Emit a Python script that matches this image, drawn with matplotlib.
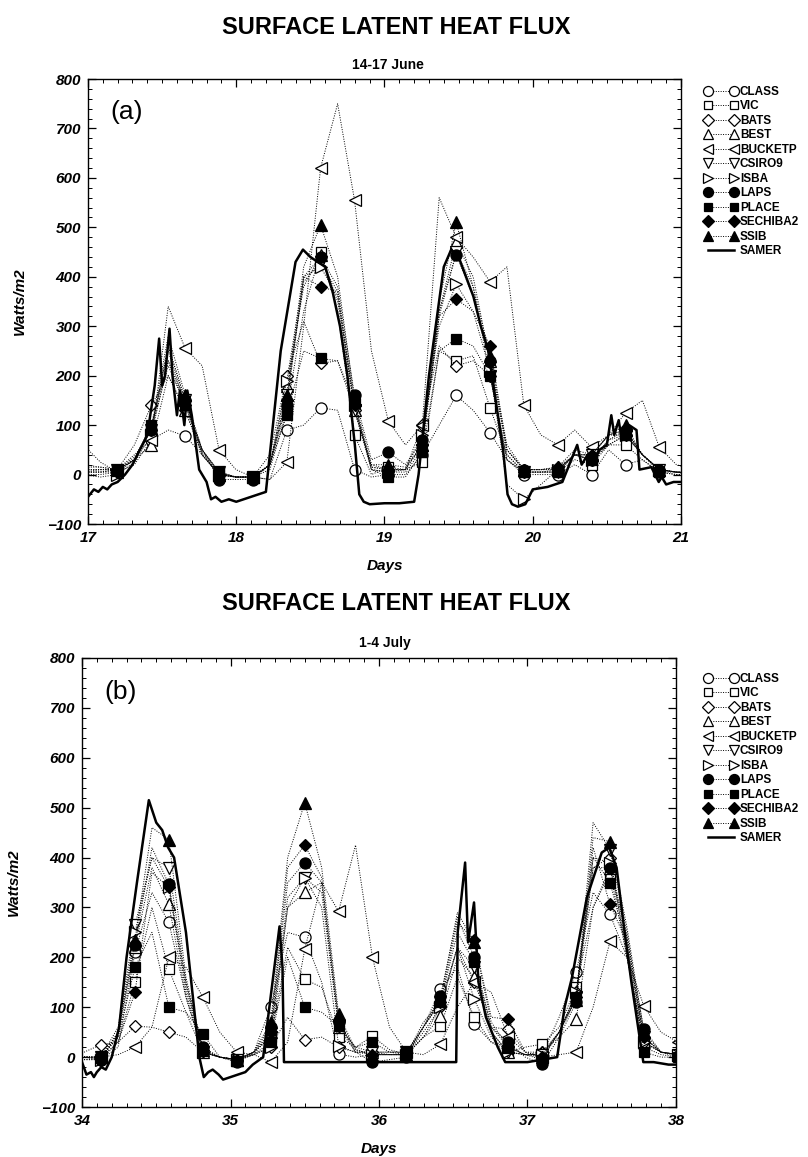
import numpy as np
import matplotlib
matplotlib.use('Agg')
import matplotlib.pyplot as plt
from matplotlib.lines import Line2D
from matplotlib.ticker import MultipleLocator

plt.rcParams['font.family'] = ['Liberation Sans', 'DejaVu Sans']

models = ['CLASS', 'VIC', 'BATS', 'BEST', 'BUCKETP', 'CSIRO9', 'ISBA',
          'LAPS', 'PLACE', 'SECHIBA2', 'SSIB']
marks = ['o', 's', 'D', '^', '<', 'v', '>', 'o', 's', 'D', '^']
filled = [False] * 7 + [True] * 4

# model output times, markers drawn on every second sample
t_a = np.round(16.97 + 0.11425 * np.arange(37), 3)
t_b = np.round(33.90 + 0.11425 * np.arange(37), 3)

# ---- 14-17 June ----
class_a = [60, 25, 5, 20, 70, 90, 78, 40, 0, -5, -5, -10, 90, 100, 135, 130, 10, -5, 0, 0, 40, 100, 160, 130, 85, 30, 0, 0, 0, 20, 0, 50, 20, 30, 5, 0, 0]
vic_a = [5, 5, 10, 30, 90, 220, 140, 50, 5, -5, -5, 10, 130, 330, 450, 330, 80, 0, 15, 10, 25, 250, 230, 240, 135, 40, 5, 5, 5, 30, 20, 60, 60, 30, 5, 0, 0]
bats_a = [5, 10, 10, 60, 140, 200, 130, 40, 0, -5, -5, 40, 200, 310, 225, 230, 130, 20, 10, 10, 100, 260, 220, 230, 200, 30, 5, 5, 10, 40, 30, 60, 80, 40, 10, 5, 5]
best_a = [0, 0, 5, 30, 60, 200, 130, 40, 0, -5, -5, 20, 180, 380, 445, 350, 130, 15, 10, 10, 60, 330, 470, 400, 230, 50, 10, 10, 10, 40, 40, 80, 90, 40, 10, 5, 5]
bucketp_a = [20, 15, 10, 40, 70, 340, 255, 220, 50, 10, -5, -10, 25, 300, 620, 750, 555, 250, 108, 60, 100, 560, 480, 440, 390, 420, 140, 80, 60, 90, 55, 80, 125, 150, 55, 20, 10]
csiro9_a = [10, 10, 10, 30, 90, 260, 150, 50, 5, -5, -5, 20, 160, 390, 430, 370, 130, 10, 5, 5, 50, 320, 450, 380, 200, 40, 5, 5, 5, 40, 40, 80, 80, 40, 10, 5, 0]
isba_a = [0, -5, 0, 25, 80, 230, 150, 40, 0, -5, -5, 20, 190, 400, 420, 360, 140, 10, 5, 10, 80, 300, 385, 330, 210, -20, -50, -20, 10, 40, 30, 60, 80, 40, 10, 5, 0]
laps_a = [15, 15, 10, 30, 90, 260, 150, 50, -10, -10, -10, 20, 140, 400, 440, 380, 160, 30, 45, 20, 70, 330, 445, 360, 230, 50, 10, 10, 10, 40, 30, 70, 90, 40, 10, 5, 5]
place_a = [5, 5, 10, 30, 100, 230, 140, 50, 5, -5, -5, 20, 120, 250, 235, 230, 145, 10, -5, -5, 45, 250, 275, 260, 200, 30, 5, 5, 5, 40, 30, 70, 80, 40, 5, 5, 0]
sechiba2_a = [5, 5, 5, 30, 90, 250, 140, 45, 0, -5, -5, 20, 150, 400, 380, 370, 140, 15, 10, 10, 60, 320, 355, 330, 260, 50, 10, 10, 15, 40, 40, 80, 90, 40, 10, 5, 5]
ssib_a = [10, 10, 10, 35, 95, 280, 160, 50, 0, -5, -5, 20, 160, 420, 505, 400, 150, 20, 20, 15, 60, 350, 510, 380, 240, 60, 10, 10, 15, 50, 40, 80, 100, 40, 10, 5, 5]

samer_a_t = [17.0, 17.04, 17.07, 17.1, 17.13, 17.16, 17.2, 17.25, 17.3, 17.35, 17.4, 17.45, 17.48, 17.5, 17.52,
             17.55, 17.57, 17.6, 17.62, 17.65, 17.67, 17.7, 17.75, 17.8, 17.83, 17.86, 17.9, 17.95, 18.0, 18.1,
             18.2, 18.23, 18.3, 18.4, 18.45, 18.5, 18.55, 18.6, 18.65, 18.7, 18.75, 18.8, 18.83, 18.86, 18.9,
             19.0, 19.1, 19.2, 19.23, 19.3, 19.4, 19.45, 19.5, 19.55, 19.6, 19.65, 19.7, 19.75, 19.8, 19.83,
             19.86, 19.9, 19.95, 20.0, 20.1, 20.2, 20.3, 20.33, 20.37, 20.4, 20.45, 20.5, 20.53, 20.55, 20.58,
             20.6, 20.65, 20.7, 20.72, 20.8, 20.85, 20.87, 20.9, 20.95, 21.0]
samer_a_v = [-45, -30, -35, -25, -30, -20, -15, 0, 20, 50, 80, 180, 275, 180, 200,
             295, 200, 120, 170, 100, 170, 120, 10, -15, -50, -45, -55, -50, -55, -45,
             -35, 50, 250, 430, 455, 440, 430, 420, 370, 300, 200, 60, -40, -55, -60,
             -58, -58, -55, 0, 200, 420, 455, 440, 400, 360, 300, 250, 150, 50, -40,
             -60, -65, -60, -30, -25, -15, 60, 20, 40, 20, 50, 60, 120, 80, 110,
             70, 100, 90, 10, 15, -15, -5, -20, -15, -15]

# ---- 1-4 July ----
class_b = [0, -5, -5, 20, 210, 330, 270, 120, 10, 0, -5, 10, 100, 250, 240, 150, 6, 0, 5, 5, 5, 60, 136, 180, 66, 30, 20, 5, 5, 80, 170, 330, 286, 200, 20, 5, 0]
vic_b = [5, 0, 0, 30, 150, 300, 176, 90, 10, 0, -5, 10, 40, 220, 156, 140, 40, 20, 42, 15, 5, 40, 62, 160, 80, 30, 10, 20, 26, 60, 140, 300, 370, 200, 30, 10, 5]
bats_b = [5, 10, 25, 30, 62, 60, 50, 40, 10, 0, -5, 5, 20, 80, 35, 40, 20, 10, 10, 10, 5, 40, 100, 220, 150, 60, 56, 10, 10, 50, 130, 380, 400, 200, 30, 10, 5]
best_b = [0, 0, 0, 40, 220, 380, 306, 120, 10, 0, -5, 10, 50, 300, 330, 350, 60, 10, 10, 5, 5, 40, 82, 200, 160, 50, 10, 5, 10, 40, 76, 300, 380, 220, 40, 10, 5]
bucketp_b = [0, 0, 0, 5, 20, 60, 200, 180, 120, 50, 10, 5, -10, 30, 216, 350, 292, 425, 200, 60, 10, 5, 26, 100, 150, 130, 40, 10, 0, 5, 10, 100, 232, 200, 102, 50, 30]
csiro9_b = [5, 0, 0, 60, 265, 400, 380, 150, 10, 0, -5, 10, 40, 320, 360, 330, 60, 20, 10, 10, 10, 60, 110, 220, 180, 50, 10, 5, 5, 50, 120, 470, 416, 250, 40, 10, 5]
isba_b = [0, 0, -5, 50, 250, 400, 340, 130, 10, 0, -5, 5, 20, 300, 360, 300, 22, 10, 5, 5, 5, 50, 100, 220, 116, 40, 10, 5, 5, 50, 130, 400, 390, 240, 30, 10, 5]
laps_b = [-5, -5, -5, 50, 225, 420, 346, 150, 20, 0, -10, 10, 60, 350, 390, 350, 70, 10, -10, -5, 0, 60, 122, 280, 200, 60, 30, 0, -14, 40, 110, 380, 380, 240, 56, 10, 0]
place_b = [0, 0, 0, 40, 180, 250, 100, 90, 46, 0, -8, 5, 30, 200, 100, 90, 62, 20, 30, 10, 10, 60, 110, 250, 190, 60, 20, 5, -5, 50, 120, 400, 350, 220, 10, 0, 0]
sechiba2_b = [0, 0, -5, 30, 130, 370, 340, 140, 15, 0, -5, 5, 50, 380, 425, 360, 75, 15, 5, 5, 5, 70, 110, 270, 235, 80, 76, 10, 0, 50, 120, 420, 306, 230, 40, 10, 5]
ssib_b = [0, 0, 0, 50, 235, 460, 436, 160, 15, 0, -5, 10, 70, 400, 510, 380, 86, 15, 5, 5, 5, 60, 115, 290, 230, 70, 20, 5, 0, 50, 115, 440, 432, 260, 50, 10, 5]

samer_b_t = [34.0, 34.03, 34.06, 34.08, 34.1, 34.13, 34.16, 34.2, 34.25, 34.3, 34.37, 34.45, 34.5, 34.54,
             34.58, 34.62, 34.7, 34.79, 34.82, 34.85, 34.88, 34.92, 34.95, 35.0, 35.1, 35.15, 35.22, 35.27,
             35.33, 35.35, 35.36, 36.52, 36.53, 36.58, 36.6, 36.64, 36.67, 36.72, 36.8, 36.85, 37.0, 37.1,
             37.2, 37.25, 37.3, 37.4, 37.5, 37.55, 37.6, 37.65, 37.7, 37.75, 37.78, 37.85, 37.95, 38.0]
samer_b_v = [-10, -35, -30, -40, -30, -20, -25, 0, 60, 200, 350, 515, 470, 455,
             420, 400, 250, 0, -40, -30, -25, -35, -45, -40, -30, -15, 0, 120,
             262, 180, -10, -10, 250, 390, 230, 310, 150, 80, 20, -10, -10, -5,
             0, 100, 160, 320, 410, 420, 380, 260, 150, 50, -10, -10, -15, -15]

series_a = [class_a, vic_a, bats_a, best_a, bucketp_a, csiro9_a, isba_a, laps_a, place_a, sechiba2_a, ssib_a]
series_b = [class_b, vic_b, bats_b, best_b, bucketp_b, csiro9_b, isba_b, laps_b, place_b, sechiba2_b, ssib_b]


def msize(m):
    return 6.6 if m in ('s', 'D') else 8.0


def draw_panel(ax, t, series, st, sv, x0, x1, tag):
    for vals, m, f in zip(series, marks, filled):
        ax.plot(t, vals, color='black', lw=0.7, ls=(0, (1, 1.5)),
                marker=m, markersize=msize(m), markevery=(2, 2),
                markerfacecolor='black' if f else 'white',
                markeredgecolor='black', markeredgewidth=0.9, zorder=3 if f else 2)
    ax.plot(st, sv, color='black', lw=1.8, zorder=4)
    ax.set_xlim(x0, x1)
    ax.set_ylim(-100, 800)
    ax.xaxis.set_major_locator(MultipleLocator(1))
    ax.xaxis.set_minor_locator(MultipleLocator(0.1))
    ax.yaxis.set_major_locator(MultipleLocator(100))
    ax.yaxis.set_minor_locator(MultipleLocator(20))
    ax.tick_params(which='both', direction='in', top=True, right=True)
    ax.tick_params(which='major', length=6, width=0.9, labelsize=11, pad=5)
    ax.tick_params(which='minor', length=3, width=0.7)
    for lab in ax.get_xticklabels() + ax.get_yticklabels():
        lab.set_fontweight('bold')
        lab.set_fontstyle('italic')
    for sp in ax.spines.values():
        sp.set_linewidth(1.0)
    ax.set_xlabel('Days', fontsize=11, fontweight='bold', fontstyle='italic', labelpad=10)
    ax.set_ylabel('Watts/m2', fontsize=11, fontweight='bold', fontstyle='italic', labelpad=14)
    ax.text(0.037, 0.925, tag, transform=ax.transAxes, fontsize=19, va='center', ha='left')


def add_legend(fig, y_top, spacing):
    handles = []
    for name, m, f in zip(models, marks, filled):
        handles.append(Line2D([], [], color='black', lw=0.7, ls=(0, (1, 1.5)),
                              marker=m, markersize=msize(m) * 0.9,
                              markerfacecolor='black' if f else 'white',
                              markeredgecolor='black', markeredgewidth=0.9, label=name))
    handles.append(Line2D([], [], color='black', lw=1.8, label='SAMER'))
    fig.legend(handles=handles, loc='upper left', bbox_to_anchor=(0.872, y_top),
               bbox_transform=fig.transFigure, frameon=False, numpoints=2,
               prop={'weight': 'bold', 'size': 8.5}, handlelength=2.8,
               handletextpad=0.2, labelspacing=spacing, borderpad=0, borderaxespad=0)


fig = plt.figure(figsize=(8.08, 11.57), dpi=100)
ax_a = fig.add_axes([0.1089, 0.5471, 0.7339, 0.3846])
ax_b = fig.add_axes([0.1015, 0.0432, 0.7351, 0.3881])

draw_panel(ax_a, t_a, series_a, samer_a_t, samer_a_v, 17, 21, '(a)')
draw_panel(ax_b, t_b, series_b, samer_b_t, samer_b_v, 34, 38, '(b)')

fig.text(0.49, 1 - 27 / 1157, 'SURFACE LATENT HEAT FLUX', ha='center', va='center',
         fontsize=17, fontweight='bold')
fig.text(0.48, 1 - 65 / 1157, '14-17 June', ha='center', va='center',
         fontsize=10, fontweight='bold')
fig.text(0.49, 1 - 604 / 1157, 'SURFACE LATENT HEAT FLUX', ha='center', va='center',
         fontsize=17, fontweight='bold')
fig.text(0.476, 1 - 643 / 1157, '1-4 July', ha='center', va='center',
         fontsize=10, fontweight='bold')

add_legend(fig, 1 - 86 / 1157, 0.21)
add_legend(fig, 1 - 673 / 1157, 0.21)

fig.savefig('out.png', dpi=100)
